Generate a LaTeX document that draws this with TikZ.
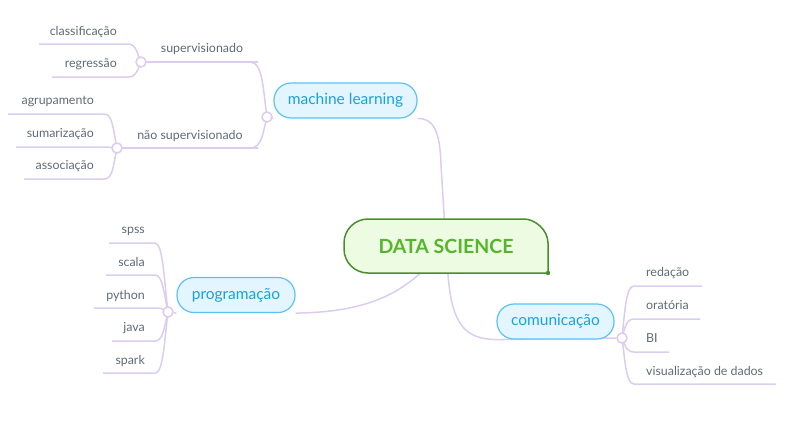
\documentclass[tikz,border=0pt]{standalone}
\usepackage{fontspec}
\setmainfont{Lato}
\pgfdeclarelayer{bg}
\pgfsetlayers{bg,main}
\definecolor{linkc}{HTML}{DCCCF0}
\definecolor{leafgray}{HTML}{5F6B75}
\definecolor{topicfill}{HTML}{E3F5FE}
\definecolor{topicborder}{HTML}{5CC2F5}
\definecolor{topictext}{HTML}{1AA0E3}
\definecolor{rootfill}{HTML}{EEFBE3}
\definecolor{rootborder}{HTML}{4A8D2C}
\definecolor{roottext}{HTML}{55B52C}
\tikzset{
 leaf/.style={font=\fontsize{12.4}{14}\selectfont, text=leafgray, inner sep=0pt},
 topic/.style={draw=topicborder, fill=topicfill, text=topictext, rounded corners=17pt,
   minimum height=35pt, inner sep=0pt, line width=1.2pt, font=\fontsize{15.5}{18}\selectfont},
 link/.style={draw=linkc, line width=1.5pt},
 knot/.style={circle, draw=linkc, fill=white, minimum size=10pt, inner sep=0pt, line width=1.5pt},
 roottxt/.style={text=roottext, font=\fontsize{19.5}{22}\bfseries\selectfont, inner sep=0pt}
}
\begin{document}
\begin{tikzpicture}[x=1pt,y=-1pt]
\useasboundingbox (0,0) rectangle (800,426);
% root
\node[roottxt] (ds) at (446,246) {DATA SCIENCE};
% topics
\node[topic, minimum width=143pt] (ml) at (345.5,100.5) {machine learning};
\node[topic, minimum width=118pt] (prog) at (236,295) {programação};
\node[topic, minimum width=117pt] (com) at (555.5,321.5) {comunicação};
% knots
\node[knot] (km) at (267,117) {};
\node[knot] (ks) at (141,62) {};
\node[knot] (kn) at (117,148) {};
\node[knot] (kp) at (168,312) {};
\node[knot] (kc) at (622,338) {};
% leaf labels
\node[leaf, anchor=base] (sup) at (202,52) {supervisionado};
\node[leaf, anchor=base] (nsup) at (190,139) {não supervisionado};
\node[leaf, anchor=base east] (cla) at (117,35) {classificação};
\node[leaf, anchor=base east] (reg) at (117,67) {regressão};
\node[leaf, anchor=base east] (agr) at (94,104) {agrupamento};
\node[leaf, anchor=base east] (sum) at (94,137) {sumarização};
\node[leaf, anchor=base east] (ass) at (94,169) {associação};
\node[leaf, anchor=base east] (spss) at (145,233) {spss};
\node[leaf, anchor=base east] (scala) at (145,266) {scala};
\node[leaf, anchor=base east] (python) at (145,299) {python};
\node[leaf, anchor=base east] (java) at (145,331) {java};
\node[leaf, anchor=base east] (spark) at (145,364) {spark};
\node[leaf, anchor=base west] (red) at (646,276) {redação};
\node[leaf, anchor=base west] (ora) at (646,309) {oratória};
\node[leaf, anchor=base west] (bi) at (646,342) {BI};
\node[leaf, anchor=base west] (vis) at (646,375) {visualização de dados};
% underline end points
\coordinate (uSup) at (258,62);
\coordinate (uNsup) at (258,148);
\coordinate (uCla) at (39,44);
\coordinate (uReg) at (52,77);
\coordinate (uAgr) at (8,114);
\coordinate (uSum) at (16,147);
\coordinate (uAss) at (24,179);
\coordinate (uSpss) at (109,243);
\coordinate (uScala) at (106,275);
\coordinate (uPython) at (94,308);
\coordinate (uJava) at (112,341);
\coordinate (uSpark) at (103,373);
\coordinate (uRed) at (702,286);
\coordinate (uOra) at (700,319);
\coordinate (uBi) at (669,352);
\coordinate (uVis) at (776,384);
\begin{pgfonlayer}{bg}
% main branches
\draw[link] (ml.south east) .. controls (433,118) and (440,130) .. (441,165) -- (ds.center);
\draw[link] (ds.center) -- (448,275) .. controls (452,326) and (466,339) .. (com.south west) -- (kc);
\draw[link] (prog.south east) .. controls (375,312) and (410,290) .. (ds.center);
\draw[link] (km) -- (ml.south west);
\draw[link] (kp) -- (prog.south west);
% machine learning
\draw[link] (km.center) .. controls (263,90) and (263,62) .. (250,62) -- (uSup);
\draw[link] (uSup) -- (ks.center);
\draw[link] (km.center) .. controls (263,130) and (263,148) .. (250,148) -- (uNsup);
\draw[link] (uNsup) -- (kn.center);
\draw[link] (ks.center) .. controls (137,55) and (137,44) .. (128,44) -- (uCla);
\draw[link] (ks.center) .. controls (137,70) and (137,77) .. (128,77) -- (uReg);
\draw[link] (kn.center) .. controls (113,130) and (113,114) .. (104,114) -- (uAgr);
\draw[link] (kn.center) .. controls (113,148) and (113,147) .. (104,147) -- (uSum);
\draw[link] (kn.center) .. controls (113,166) and (113,179) .. (104,179) -- (uAss);
% programacao
\draw[link] (kp.center) .. controls (164,280) and (163,243) .. (155,243) -- (uSpss);
\draw[link] (kp.center) .. controls (164,295) and (163,275) .. (155,275) -- (uScala);
\draw[link] (kp.center) .. controls (164,310) and (163,308) .. (155,308) -- (uPython);
\draw[link] (kp.center) .. controls (164,328) and (163,341) .. (155,341) -- (uJava);
\draw[link] (kp.center) .. controls (164,345) and (163,373) .. (155,373) -- (uSpark);
% comunicacao
\draw[link] (kc.center) .. controls (625,310) and (626,286) .. (634,286) -- (uRed);
\draw[link] (kc.center) .. controls (625,328) and (626,319) .. (634,319) -- (uOra);
\draw[link] (kc.center) .. controls (625,345) and (626,352) .. (634,352) -- (uBi);
\draw[link] (kc.center) .. controls (625,360) and (626,384) .. (634,384) -- (uVis);
% root box
\draw[draw=rootborder, fill=rootfill, line width=1.5pt]
  (548,273) -- (548,243) .. controls (548,229.75) and (534.75,219) .. (524,219)
  -- (368,219) .. controls (354.75,219) and (344,229.75) .. (344,243)
  -- (344,249) .. controls (344,262.25) and (354.75,273) .. (368,273) -- cycle;
\fill[rootborder] (548,273) circle (2.2pt);
\end{pgfonlayer}
\end{tikzpicture}
\end{document}
